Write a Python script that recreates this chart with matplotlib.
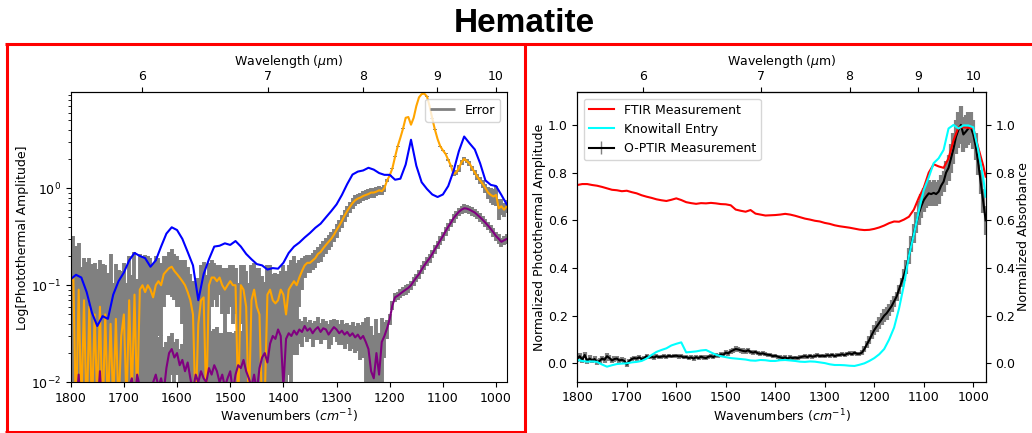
import numpy as np
import matplotlib
matplotlib.use("Agg")
import matplotlib.pyplot as plt
from matplotlib.lines import Line2D
from matplotlib.collections import LineCollection
from matplotlib.legend_handler import HandlerErrorbar

plt.rcParams["font.size"] = 9

# ---- left panel: O-PTIR amplitude (log) ----
wn_blue = np.arange(1800, 979, -10)
blue = [0.115, 0.128, 0.12, 0.085, 0.052, 0.038, 0.048, 0.045, 0.08, 0.11,
        0.135, 0.18, 0.215, 0.2, 0.19, 0.155, 0.18, 0.25, 0.34, 0.395,
        0.37, 0.3, 0.22, 0.16, 0.07, 0.13, 0.185, 0.25, 0.255, 0.27,
        0.26, 0.285, 0.25, 0.21, 0.185, 0.165, 0.16, 0.145, 0.15, 0.148,
        0.17, 0.215, 0.25, 0.275, 0.31, 0.345, 0.39, 0.43, 0.5, 0.58,
        0.68, 0.85, 1.1, 1.38, 1.48, 1.52, 1.62, 1.55, 1.43, 1.37,
        1.37, 1.22, 1.25, 1.75, 3.15, 1.7, 1.15, 0.98, 0.86, 0.81,
        0.86, 1.05, 1.5, 2.4, 3.4, 2.9, 2.5, 1.8, 1.2, 1.08,
        1.05, 0.85, 0.68]

wn = np.arange(1800, 979, -5)
orange = [0.11, 0.12, 0.004, 0.09, 0.005, 0.07, 0.004, 0.06, 0.005, 0.05,
          0.006, 0.06, 0.004, 0.05, 0.005, 0.04, 0.006, 0.045, 0.005, 0.03,
          0.05, 0.006, 0.07, 0.007, 0.08, 0.006, 0.09, 0.1, 0.085, 0.1,
          0.09, 0.075, 0.1, 0.11, 0.1, 0.13, 0.14, 0.15, 0.155, 0.14,
          0.13, 0.12, 0.11, 0.1, 0.085, 0.07, 0.05, 0.005, 0.04, 0.07,
          0.075, 0.006, 0.1, 0.12, 0.12, 0.11, 0.12, 0.1, 0.09, 0.1,
          0.11, 0.1, 0.1, 0.006, 0.1, 0.09, 0.06, 0.005, 0.07, 0.09,
          0.06, 0.05, 0.005, 0.007, 0.08, 0.09, 0.07, 0.065, 0.07, 0.09,
          0.08, 0.05, 0.09, 0.1, 0.11, 0.1, 0.12, 0.14, 0.16, 0.17,
          0.17, 0.18, 0.19, 0.21, 0.22, 0.24, 0.26, 0.28, 0.3, 0.33,
          0.37, 0.41, 0.46, 0.52, 0.58, 0.64, 0.7, 0.75, 0.78, 0.8,
          0.83, 0.85, 0.87, 0.9, 0.9, 0.92, 0.95, 0.93, 1.0, 1.2,
          1.35, 1.6, 2.1, 2.7, 3.3, 4.1, 5.3, 5.4, 4.5, 5.3,
          7.0, 8.6, 9.3, 9.4, 8.8, 7.0, 5.2, 4.0, 3.2, 2.7,
          2.45, 2.25, 1.95, 1.7, 1.4, 1.45, 1.6, 1.85, 2.0, 1.9,
          1.8, 1.6, 1.45, 1.3, 1.2, 1.1, 1.0, 0.9, 0.85, 0.82,
          0.85, 0.62, 0.65, 0.6, 0.65]
orange_err = [0.15, 0.2, 0.25, 0.18, 0.15, 0.12, 0.17, 0.13, 0.16, 0.12,
              0.14, 0.12, 0.16, 0.11, 0.13, 0.17, 0.1, 0.12, 0.14, 0.11,
              0.12, 0.1, 0.13, 0.12, 0.14, 0.11, 0.12, 0.1, 0.12, 0.1,
              0.1, 0.09, 0.1, 0.08, 0.07, 0.07, 0.06, 0.07, 0.08, 0.07,
              0.07, 0.06, 0.07, 0.08, 0.07, 0.06, 0.06, 0.1, 0.08, 0.09,
              0.1, 0.12, 0.07, 0.06, 0.05, 0.05, 0.04, 0.05, 0.06, 0.05,
              0.05, 0.06, 0.05, 0.1, 0.06, 0.07, 0.08, 0.1, 0.09, 0.08,
              0.09, 0.1, 0.12, 0.1, 0.08, 0.07, 0.06, 0.07, 0.06, 0.05,
              0.08, 0.09, 0.07, 0.08, 0.09, 0.07, 0.06, 0.05, 0.04, 0.035,
              0.035, 0.035, 0.04, 0.04, 0.045, 0.045, 0.05, 0.05, 0.05, 0.05,
              0.06, 0.06, 0.07, 0.07, 0.08, 0.08, 0.09, 0.09, 0.09, 0.1,
              0.1, 0.1, 0.1, 0.1, 0.1, 0.1, 0.1, 0.09, 0.08, 0.05,
              0.03, 0.03, 0.03, 0.02, 0.02, 0.02, 0.02, 0.02, 0.02, 0.02,
              0.02, 0.02, 0.02, 0.02, 0.02, 0.02, 0.02, 0.02, 0.02, 0.02,
              0.02, 0.03, 0.04, 0.05, 0.08, 0.1, 0.12, 0.12, 0.1, 0.1,
              0.1, 0.1, 0.1, 0.09, 0.09, 0.1, 0.1, 0.12, 0.15, 0.15,
              0.2, 0.15, 0.12, 0.1, 0.1]
purple = [0.006, 0.004, 0.005, 0.012, 0.004, 0.003, 0.005, 0.004, 0.006, 0.003,
          0.005, 0.013, 0.004, 0.005, 0.003, 0.004, 0.005, 0.003, 0.004, 0.005,
          0.004, 0.006, 0.009, 0.011, 0.006, 0.012, 0.009, 0.007, 0.005, 0.008,
          0.006, 0.01, 0.012, 0.009, 0.011, 0.008, 0.014, 0.02, 0.022, 0.018,
          0.02, 0.015, 0.017, 0.013, 0.016, 0.011, 0.008, 0.012, 0.01, 0.013,
          0.011, 0.01, 0.014, 0.012, 0.015, 0.013, 0.01, 0.012, 0.009, 0.011,
          0.013, 0.008, 0.012, 0.015, 0.014, 0.017, 0.013, 0.011, 0.009, 0.012,
          0.008, 0.014, 0.018, 0.02, 0.016, 0.025, 0.03, 0.028, 0.035, 0.03,
          0.009, 0.028, 0.032, 0.03, 0.034, 0.031, 0.035, 0.033, 0.038, 0.034,
          0.036, 0.032, 0.035, 0.037, 0.033, 0.036, 0.035, 0.031, 0.034, 0.037,
          0.035, 0.032, 0.034, 0.031, 0.033, 0.03, 0.032, 0.029, 0.031, 0.028,
          0.03, 0.026, 0.022, 0.013, 0.011, 0.02, 0.012, 0.026, 0.03, 0.036,
          0.045, 0.062, 0.075, 0.078, 0.082, 0.086, 0.09, 0.094, 0.1, 0.11,
          0.12, 0.13, 0.145, 0.16, 0.175, 0.19, 0.21, 0.235, 0.26, 0.29,
          0.32, 0.36, 0.4, 0.44, 0.49, 0.53, 0.57, 0.6, 0.62, 0.615,
          0.6, 0.58, 0.56, 0.53, 0.5, 0.47, 0.44, 0.41, 0.38, 0.35,
          0.32, 0.3, 0.28, 0.29, 0.3]
purple_err = [0.02, 0.03, 0.025, 0.02, 0.03, 0.025, 0.02, 0.03, 0.025, 0.02,
              0.025, 0.02, 0.03, 0.025, 0.02, 0.028, 0.022, 0.025, 0.02, 0.026,
              0.022, 0.025, 0.02, 0.028, 0.024, 0.022, 0.026, 0.02, 0.024, 0.022,
              0.025, 0.02, 0.02, 0.02, 0.02, 0.015, 0.012, 0.01, 0.01, 0.008,
              0.008, 0.007, 0.008, 0.015, 0.02, 0.02, 0.02, 0.02, 0.02, 0.02,
              0.022, 0.02, 0.025, 0.022, 0.02, 0.024, 0.022, 0.02, 0.025, 0.022,
              0.02, 0.024, 0.022, 0.025, 0.02, 0.022, 0.024, 0.02, 0.022, 0.025,
              0.022, 0.02, 0.025, 0.022, 0.02, 0.025, 0.022, 0.024, 0.02, 0.025,
              0.025, 0.02, 0.02, 0.02, 0.015, 0.012, 0.01, 0.01, 0.009, 0.008,
              0.008, 0.009, 0.008, 0.01, 0.008, 0.009, 0.008, 0.009, 0.01, 0.008,
              0.009, 0.008, 0.01, 0.009, 0.008, 0.009, 0.01, 0.009, 0.01, 0.011,
              0.012, 0.02, 0.025, 0.025, 0.02, 0.025, 0.02, 0.02, 0.012, 0.008,
              0.006, 0.007, 0.008, 0.008, 0.009, 0.009, 0.01, 0.01, 0.011, 0.012,
              0.012, 0.013, 0.015, 0.016, 0.018, 0.019, 0.021, 0.024, 0.026, 0.03,
              0.032, 0.036, 0.04, 0.044, 0.05, 0.053, 0.057, 0.06, 0.062, 0.062,
              0.06, 0.058, 0.056, 0.053, 0.05, 0.047, 0.044, 0.041, 0.038, 0.035,
              0.035, 0.035, 0.03, 0.03, 0.035]

# ---- right panel: normalized spectra ----
wn_ref = np.append(np.arange(1800, 979, -10), 975)
ftir = [0.748, 0.752, 0.752, 0.748, 0.745, 0.74, 0.734, 0.728, 0.726, 0.722,
        0.724, 0.718, 0.713, 0.705, 0.699, 0.694, 0.688, 0.684, 0.681, 0.686,
        0.692, 0.685, 0.676, 0.672, 0.669, 0.672, 0.671, 0.673, 0.671, 0.668,
        0.667, 0.663, 0.645, 0.64, 0.636, 0.643, 0.628, 0.624, 0.62, 0.621,
        0.622, 0.624, 0.627, 0.624, 0.619, 0.613, 0.607, 0.603, 0.598, 0.595,
        0.589, 0.585, 0.579, 0.575, 0.572, 0.569, 0.565, 0.561, 0.559, 0.56,
        0.564, 0.57, 0.578, 0.588, 0.595, 0.594, 0.603, 0.615, 0.645, 0.695,
        0.737, 0.8, 0.835, 0.826, 0.82, 0.86, 0.935, 0.99, 0.99, 0.988,
        0.986, 0.905, 0.83, 0.783]
knowitall = [0.014, 0.01, 0.007, 0.008, 0.006, -0.005, -0.014, -0.008, -0.003, -0.001,
             0.0, 0.004, 0.006, 0.01, 0.02, 0.035, 0.048, 0.056, 0.063, 0.075,
             0.082, 0.088, 0.046, 0.048, 0.05, 0.054, 0.056, 0.046, 0.036, 0.03,
             0.026, 0.022, 0.02, 0.018, 0.016, 0.012, 0.011, 0.014, 0.013, 0.01,
             0.01, 0.013, 0.014, 0.012, 0.01, 0.007, 0.006, 0.008, 0.007, 0.004,
             0.001, -0.004, -0.007, -0.007, -0.008, -0.01, -0.011, -0.006, 0.0, 0.01,
             0.022, 0.038, 0.06, 0.1, 0.15, 0.23, 0.33, 0.45, 0.54, 0.64,
             0.727, 0.78, 0.84, 0.86, 0.895, 0.985, 1.0, 0.985, 0.998, 0.998,
             0.99, 0.895, 0.78, 0.699]

wn_optir = np.append(np.arange(1800, 979, -5), 975)
optir = [0.02, 0.03, 0.015, 0.035, 0.01, 0.02, 0.012, 0.018, 0.005, 0.01,
         0.02, 0.015, 0.03, 0.022, 0.012, 0.018, 0.02, 0.012, 0.015, 0.01,
         -0.005, 0.01, 0.018, 0.022, 0.02, 0.025, 0.018, 0.022, 0.03, 0.025,
         0.028, 0.024, 0.03, 0.026, 0.028, 0.03, 0.027, 0.032, 0.029, 0.031,
         0.032, 0.029, 0.03, 0.025, 0.027, 0.022, 0.025, 0.02, 0.026, 0.022,
         0.028, 0.024, 0.022, 0.028, 0.03, 0.026, 0.034, 0.032, 0.038, 0.036,
         0.045, 0.042, 0.05, 0.055, 0.06, 0.058, 0.055, 0.052, 0.05, 0.055,
         0.048, 0.045, 0.048, 0.042, 0.04, 0.042, 0.038, 0.036, 0.035, 0.03,
         0.032, 0.028, 0.025, 0.022, 0.025, 0.02, 0.025, 0.022, 0.024, 0.022,
         0.025, 0.028, 0.03, 0.026, 0.032, 0.028, 0.03, 0.034, 0.03, 0.032,
         0.03, 0.034, 0.032, 0.036, 0.03, 0.034, 0.035, 0.038, 0.034, 0.04,
         0.042, 0.038, 0.045, 0.04, 0.04, 0.045, 0.06, 0.08, 0.098, 0.12,
         0.14, 0.155, 0.17, 0.185, 0.2, 0.21, 0.225, 0.24, 0.26, 0.28,
         0.31, 0.34, 0.37, 0.405, 0.45, 0.5, 0.545, 0.59, 0.63, 0.66,
         0.685, 0.7, 0.713, 0.71, 0.715, 0.71, 0.72, 0.745, 0.762, 0.8,
         0.82, 0.86, 0.9, 0.95, 0.98, 1.0, 0.96, 0.972, 0.985, 0.99,
         0.96, 0.91, 0.84, 0.76, 0.68, 0.6]
optir_err = [0.015, 0.012, 0.015, 0.012, 0.014, 0.013, 0.012, 0.014, 0.012, 0.013,
             0.012, 0.013, 0.012, 0.011, 0.012, 0.011, 0.012, 0.01, 0.011, 0.012,
             0.012, 0.01, 0.009, 0.01, 0.009, 0.008, 0.009, 0.008, 0.009, 0.008,
             0.008, 0.009, 0.008, 0.008, 0.009, 0.008, 0.008, 0.009, 0.008, 0.008,
             0.008, 0.009, 0.008, 0.008, 0.009, 0.008, 0.008, 0.009, 0.008, 0.008,
             0.008, 0.009, 0.008, 0.009, 0.008, 0.009, 0.01, 0.009, 0.01, 0.01,
             0.01, 0.011, 0.01, 0.011, 0.012, 0.011, 0.01, 0.011, 0.01, 0.01,
             0.009, 0.01, 0.009, 0.009, 0.008, 0.009, 0.008, 0.008, 0.009, 0.008,
             0.008, 0.008, 0.009, 0.008, 0.008, 0.008, 0.009, 0.008, 0.008, 0.008,
             0.008, 0.008, 0.009, 0.008, 0.008, 0.008, 0.009, 0.008, 0.008, 0.008,
             0.008, 0.009, 0.008, 0.008, 0.008, 0.009, 0.008, 0.008, 0.008, 0.008,
             0.008, 0.008, 0.008, 0.009, 0.009, 0.01, 0.012, 0.015, 0.018, 0.02,
             0.02, 0.022, 0.025, 0.025, 0.028, 0.028, 0.025, 0.025, 0.022, 0.02,
             0.02, 0.02, 0.025, 0.03, 0.035, 0.035, 0.04, 0.045, 0.05, 0.05,
             0.05, 0.05, 0.055, 0.05, 0.055, 0.05, 0.05, 0.045, 0.045, 0.05,
             0.055, 0.06, 0.065, 0.07, 0.075, 0.08, 0.075, 0.07, 0.07, 0.065,
             0.06, 0.055, 0.05, 0.05, 0.05, 0.06]


def wn_to_um(x):
    return 1e4 / np.asarray(x, dtype=float)


def thin_errbar(handle, orig):
    # legend errorbar: keep the look of the plot but with a thin bar
    handle.update_from(orig)
    if isinstance(handle, LineCollection):
        handle.set_linewidth(1.0)


fig = plt.figure(figsize=(10.32, 4.33), dpi=100)

# left plot
ax1 = fig.add_axes([0.0685, 0.1171, 0.4225, 0.6697])
orange = np.array(orange)
purple = np.array(purple)
ax1.vlines(wn, np.clip(orange - orange_err, 1e-4, None), orange + orange_err,
           color="gray", lw=2.8, label="Error")
ax1.vlines(wn, np.clip(purple - purple_err, 1e-4, None), purple + purple_err,
           color="gray", lw=2.8)
ax1.plot(wn, orange, color="orange", lw=1.5)
ax1.plot(wn, purple, color="purple", lw=1.5)
ax1.plot(wn_blue, blue, color="blue", lw=1.5)
ax1.set_yscale("log")
ax1.set_ylim(1e-2, 9.7)
ax1.set_xlim(1800, 980)
ax1.set_xlabel("Wavenumbers ($cm^{-1}$)", labelpad=2)
ax1.set_ylabel("Log[Photothermal Amplitude]", labelpad=1)
leg1 = ax1.legend(loc="upper right")
for h in leg1.legend_handles:
    h.set_linewidth(2)
top1 = ax1.secondary_xaxis("top", functions=(wn_to_um, wn_to_um))
top1.set_xticks([6, 7, 8, 9, 10])
top1.set_xlabel("Wavelength ($\\mu$m)", labelpad=3)

# right plot
ax2 = fig.add_axes([0.5594, 0.1185, 0.3957, 0.6684])
eb = ax2.errorbar(wn_optir, optir, yerr=optir_err, color="black", ecolor="gray",
                  lw=1.5, elinewidth=3, label="O-PTIR Measurement")
ax2.set_xlim(1800, 975)
ax2.set_ylim(-0.077, 1.137)
ax2.set_xlabel("Wavenumbers ($cm^{-1}$)", labelpad=2)
ax2.set_ylabel("Normalized Photothermal Amplitude", labelpad=1)
ax3 = ax2.twinx()
l1, = ax3.plot(wn_ref, ftir, color="red", lw=1.5, label="FTIR Measurement")
l2, = ax3.plot(wn_ref, knowitall, color="cyan", lw=1.5, label="Knowitall Entry")
ax3.set_ylim(-0.077, 1.137)
ax3.set_ylabel("Normalized Absorbance", labelpad=1)
ax3.legend(handles=[l1, l2, eb], loc="upper left",
           handler_map={type(eb): HandlerErrorbar(update_func=thin_errbar)})
top2 = ax2.secondary_xaxis("top", functions=(wn_to_um, wn_to_um))
top2.set_xticks([6, 7, 8, 9, 10])
top2.set_xlabel("Wavelength ($\\mu$m)", labelpad=3)

# title and red panel frames
fig.text(0.508, 0.927, "Hematite", ha="center", va="baseline",
         fontsize=24, fontweight="bold", family="Liberation Sans")
H = 433.0
W = 1032.0
frame = dict(color="red", lw=2.2, solid_capstyle="butt")
fig.add_artist(Line2D([5 / W, 1.0], [1 - 43.5 / H] * 2, **frame))
fig.add_artist(Line2D([6.5 / W] * 2, [1 - 43 / H, 0.0], **frame))
fig.add_artist(Line2D([525 / W] * 2, [1 - 43 / H, 0.0], **frame))
fig.add_artist(Line2D([5 / W, 526 / W], [1 - 431.5 / H] * 2, **frame))

fig.savefig("out.png", dpi=100)
